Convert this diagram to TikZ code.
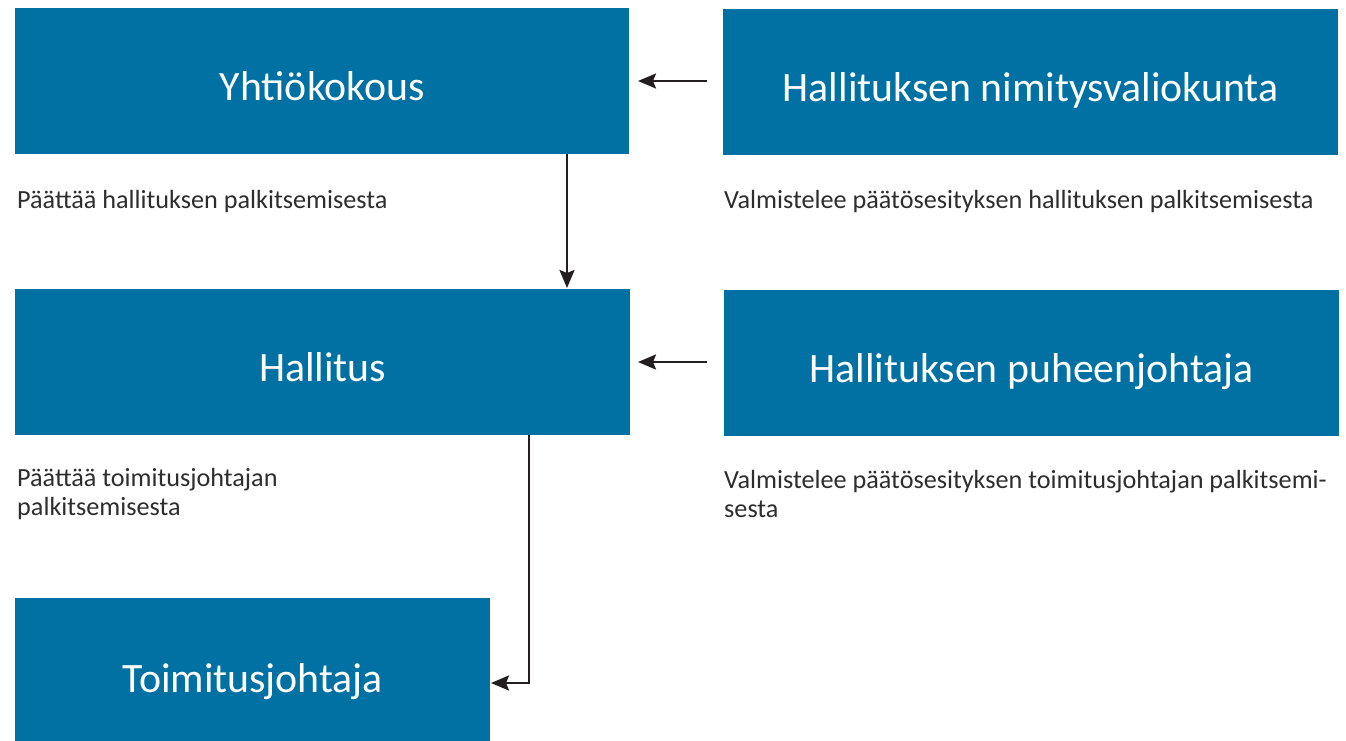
\documentclass[tikz,border=0pt]{standalone}
\usepackage{fontspec}
\setmainfont{Carlito}
\usetikzlibrary{arrows.meta}
\definecolor{boxblue}{RGB}{0,113,162}
\definecolor{arrowblack}{RGB}{35,31,32}
\definecolor{textgrey}{RGB}{45,45,45}
\tikzset{
  bluebox/.style={fill=boxblue, draw=none, inner sep=0pt, anchor=north west, text=white, font=\fontsize{41.8}{46}\selectfont, text height=38pt, text depth=0pt},
  desc/.style={anchor=west, inner sep=0pt, text=textgrey, font=\fontsize{26.2}{29}\selectfont, align=left},
  conn/.style={draw=arrowblack, line width=2.3pt, -{Stealth[length=18pt,width=15pt,inset=3pt]}}
}
\begin{document}
\begin{tikzpicture}[x=1pt,y=-1pt]
\useasboundingbox (0,0) rectangle (1346,741);
\node[bluebox, minimum width=614pt, minimum height=146pt] (yk) at (15,8) {Yhtiökokous};
\node[bluebox, minimum width=615pt, minimum height=146pt] (nv) at (723,9) {Hallituksen nimitysvaliokunta};
\node[bluebox, minimum width=615pt, minimum height=146pt] (hal) at (15,289) {Hallitus};
\node[bluebox, minimum width=615pt, minimum height=146pt] (pj) at (724,290) {Hallituksen puheenjohtaja};
\node[bluebox, minimum width=475pt, minimum height=150pt] (tj) at (15,598) {Toimitusjohtaja};
\node[desc] (d1) at (17,202) {Päättää hallituksen palkitsemisesta};
\node[desc] (d2) at (724,202) {Valmistelee päätösesityksen hallituksen palkitsemisesta};
\node[desc] (d3) at (17,494) {Päättää toimitusjohtajan\\palkitsemisesta};
\node[desc] (d4) at (724,494) {Valmistelee päätösesityksen toimitusjohtajan palkitsemi-\\sesta};
\coordinate (a1s) at (707,81);
\coordinate (a1e) at (638,81);
\coordinate (a2s) at (707,362);
\coordinate (a2e) at (638,362);
\draw[conn] (a1s) -- (a1e);
\draw[conn] (a2s) -- (a2e);
\draw[conn] (yk.south -| 567,0) -- (567,288);
\draw[conn] (hal.south -| 529,0) |- (491,683);
\end{tikzpicture}
\end{document}
